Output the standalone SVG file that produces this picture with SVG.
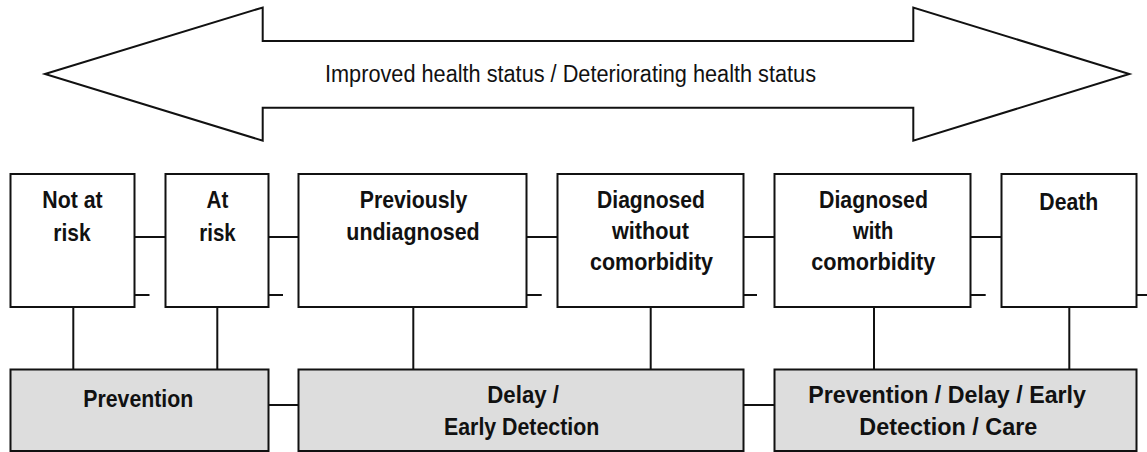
<svg xmlns="http://www.w3.org/2000/svg" width="1147" height="452" viewBox="0 0 1147 452">
<style>
.box{fill:#ffffff;stroke:#111111;stroke-width:2}
.act{fill:#dddddd;stroke:#111111;stroke-width:2}
.conn line{stroke:#111111;stroke-width:2;fill:none}
.lbl{font-family:"Liberation Sans Narrow","Arial Narrow","Liberation Sans",Arial,sans-serif;font-size:24.5px;font-weight:bold;fill:#111111}
.ttl{font-family:"Liberation Sans Narrow","Arial Narrow","Liberation Sans",Arial,sans-serif;font-size:23px;fill:#111111}
</style>
<rect width="1147" height="452" fill="#ffffff"/>
<g id="health-arrow">
<polygon points="45,74 262.7,7.5 262.7,41 913.3,41 913.3,7.5 1129.3,74 913.3,140.7 913.3,107.7 262.7,107.7 262.7,140.7" fill="#ffffff" stroke="#111111" stroke-width="2" stroke-linejoin="miter"/>
<text class="ttl" x="325" y="81.5" textLength="491" lengthAdjust="spacingAndGlyphs">Improved health status / Deteriorating health status</text>
</g>
<g class="conn" id="connectors">
<line x1="134.5" y1="237" x2="165.5" y2="237"/>
<line x1="268.5" y1="237" x2="298.5" y2="237"/>
<line x1="526.5" y1="237" x2="557.5" y2="237"/>
<line x1="743.5" y1="237" x2="774.5" y2="237"/>
<line x1="970.5" y1="237" x2="1001.5" y2="237"/>
<line x1="134.5" y1="295" x2="149.5" y2="295"/>
<line x1="268.5" y1="295" x2="283" y2="295"/>
<line x1="526.5" y1="295" x2="541.7" y2="295"/>
<line x1="743.5" y1="295" x2="757" y2="295"/>
<line x1="970.5" y1="295" x2="985.7" y2="295"/>
<line x1="1136.5" y1="295" x2="1147" y2="295"/>
<line x1="73.3" y1="307" x2="73.3" y2="369.5"/>
<line x1="217.3" y1="307" x2="217.3" y2="369.5"/>
<line x1="413.3" y1="307" x2="413.3" y2="369.5"/>
<line x1="650.7" y1="307" x2="650.7" y2="369.5"/>
<line x1="874" y1="307" x2="874" y2="369.5"/>
<line x1="1069.3" y1="307" x2="1069.3" y2="369.5"/>
<line x1="268.5" y1="405" x2="298.5" y2="405"/>
<line x1="743.5" y1="405" x2="774.5" y2="405"/>
</g>
<g id="not-at-risk">
<rect class="box" x="10.5" y="174" width="124" height="133"/>
<text class="lbl" x="42.3" y="208" textLength="60.4" lengthAdjust="spacingAndGlyphs">Not at</text>
<text class="lbl" x="53.3" y="240.5" textLength="37.3" lengthAdjust="spacingAndGlyphs">risk</text>
</g>
<g id="at-risk">
<rect class="box" x="165.5" y="174" width="103" height="133"/>
<text class="lbl" x="206.5" y="208" textLength="21.8" lengthAdjust="spacingAndGlyphs">At</text>
<text class="lbl" x="199.3" y="240.5" textLength="36.4" lengthAdjust="spacingAndGlyphs">risk</text>
</g>
<g id="previously-undiagnosed">
<rect class="box" x="298.5" y="174" width="228" height="133"/>
<text class="lbl" x="359.7" y="208" textLength="107.6" lengthAdjust="spacingAndGlyphs">Previously</text>
<text class="lbl" x="346.3" y="239.7" textLength="133.4" lengthAdjust="spacingAndGlyphs">undiagnosed</text>
</g>
<g id="diagnosed-without">
<rect class="box" x="557.5" y="174" width="186" height="133"/>
<text class="lbl" x="597" y="208" textLength="108" lengthAdjust="spacingAndGlyphs">Diagnosed</text>
<text class="lbl" x="612" y="238.5" textLength="77" lengthAdjust="spacingAndGlyphs">without</text>
<text class="lbl" x="590" y="269.5" textLength="123" lengthAdjust="spacingAndGlyphs">comorbidity</text>
</g>
<g id="diagnosed-with">
<rect class="box" x="774.5" y="174" width="196" height="133"/>
<text class="lbl" x="819" y="208" textLength="109" lengthAdjust="spacingAndGlyphs">Diagnosed</text>
<text class="lbl" x="853" y="238.5" textLength="40.3" lengthAdjust="spacingAndGlyphs">with</text>
<text class="lbl" x="811.3" y="269.5" textLength="124" lengthAdjust="spacingAndGlyphs">comorbidity</text>
</g>
<g id="death">
<rect class="box" x="1001.5" y="174" width="135" height="133"/>
<text class="lbl" x="1039.3" y="209.5" textLength="59" lengthAdjust="spacingAndGlyphs">Death</text>
</g>
<g id="prevention">
<rect class="act" x="10.5" y="369.5" width="258" height="81.5"/>
<text class="lbl" x="83.3" y="406.7" textLength="110" lengthAdjust="spacingAndGlyphs">Prevention</text>
</g>
<g id="delay-early-detection">
<rect class="act" x="298.5" y="369.5" width="445" height="81.5"/>
<text class="lbl" x="487.3" y="403.3" textLength="71.7" lengthAdjust="spacingAndGlyphs">Delay /</text>
<text class="lbl" x="444" y="435" textLength="155.3" lengthAdjust="spacingAndGlyphs">Early Detection</text>
</g>
<g id="prevention-delay-care">
<rect class="act" x="774.5" y="369.5" width="362" height="81.5"/>
<text class="lbl" x="808.3" y="403.3" textLength="277.7" lengthAdjust="spacingAndGlyphs">Prevention / Delay / Early</text>
<text class="lbl" x="859.3" y="435" textLength="178" lengthAdjust="spacingAndGlyphs">Detection / Care</text>
</g>
</svg>
